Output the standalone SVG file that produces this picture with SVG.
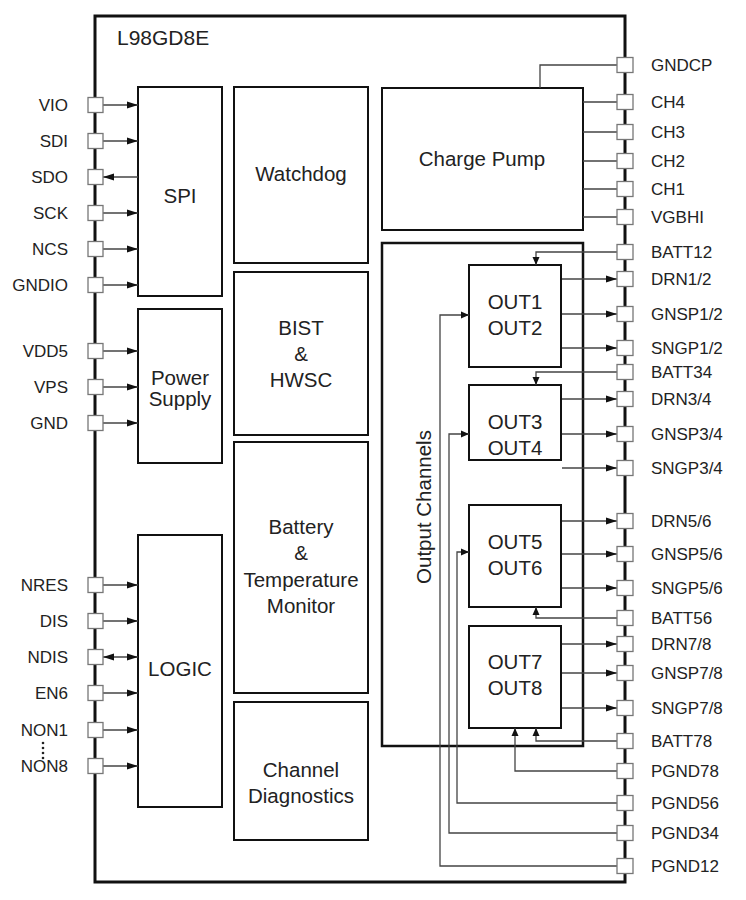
<svg xmlns="http://www.w3.org/2000/svg" width="746" height="900" viewBox="0 0 746 900">
<style>
text{font-family:"Liberation Sans",Arial,sans-serif;fill:#222}
.pl{font-size:17px}
.l{text-anchor:end}
.bl{font-size:20.5px;text-anchor:middle}
.blk{fill:#fff;stroke:#111;stroke-width:2}
.pin{fill:#fff;stroke:#777;stroke-width:1.3}
.w{fill:none;stroke:#444;stroke-width:1.3}
.a{marker-end:url(#ah)}
.as{marker-end:url(#sh)}
</style>
<defs>
<marker id="ah" markerUnits="userSpaceOnUse" markerWidth="11" markerHeight="8" refX="11" refY="4" orient="auto"><path d="M0,0.5 L11,4 L0,7.5z" fill="#111"/></marker>
<marker id="as" markerUnits="userSpaceOnUse" markerWidth="11" markerHeight="8" refX="11" refY="4" orient="auto-start-reverse"><path d="M0,0.5 L11,4 L0,7.5z" fill="#111"/></marker>
<marker id="sh" markerUnits="userSpaceOnUse" markerWidth="8" markerHeight="8" refX="8" refY="4" orient="auto"><path d="M0,0.5 L8,4 L0,7.5z" fill="#111"/></marker>
</defs>
<rect width="746" height="900" fill="#fff"/>
<g id="chip">
<rect x="95" y="16" width="530" height="866" fill="none" stroke="#111" stroke-width="3"/>
<text x="117" y="45" style="font-size:21px">L98GD8E</text>
</g>
<g id="spi"><rect class="blk" x="138" y="87" width="84" height="209"/><text class="bl" x="180" y="203">SPI</text></g>
<g id="power"><rect class="blk" x="138" y="309" width="84" height="154"/><text class="bl" x="180" y="385">Power</text><text class="bl" x="180" y="406">Supply</text></g>
<g id="logic"><rect class="blk" x="138" y="535" width="84" height="272"/><text class="bl" x="180" y="676">LOGIC</text></g>
<g id="watchdog"><rect class="blk" x="234" y="87" width="134" height="176"/><text class="bl" x="301" y="181">Watchdog</text></g>
<g id="bist"><rect class="blk" x="234" y="272" width="134" height="163"/><text class="bl" x="301" y="335">BIST</text><text class="bl" x="301" y="361">&amp;</text><text class="bl" x="301" y="387">HWSC</text></g>
<g id="battery"><rect class="blk" x="234" y="442" width="134" height="251"/><text class="bl" x="301" y="534">Battery</text><text class="bl" x="301" y="560">&amp;</text><text class="bl" x="301" y="587">Temperature</text><text class="bl" x="301" y="613">Monitor</text></g>
<g id="diag"><rect class="blk" x="234" y="702" width="134" height="138"/><text class="bl" x="301" y="777">Channel</text><text class="bl" x="301" y="803">Diagnostics</text></g>
<g id="chargepump"><rect class="blk" x="382" y="88" width="201" height="142"/><text class="bl" x="482" y="166">Charge Pump</text></g>
<g id="outch"><rect x="382" y="243" width="201" height="503" fill="none" stroke="#111" stroke-width="2.5"/><text class="bl" transform="translate(431,507) rotate(-90)">Output Channels</text></g>
<g id="out12"><rect class="blk" x="469" y="265" width="92" height="102"/><text class="bl" x="515" y="309">OUT1</text><text class="bl" x="515" y="335">OUT2</text></g>
<g id="out34"><rect class="blk" x="469" y="385" width="92" height="75"/><text class="bl" x="515" y="429">OUT3</text><text class="bl" x="515" y="455">OUT4</text></g>
<g id="out56"><rect class="blk" x="469" y="505" width="92" height="102"/><text class="bl" x="515" y="549">OUT5</text><text class="bl" x="515" y="575">OUT6</text></g>
<g id="out78"><rect class="blk" x="469" y="626" width="92" height="102"/><text class="bl" x="515" y="669">OUT7</text><text class="bl" x="515" y="695">OUT8</text></g>
<g id="connectors">
<path class="w a" d="M103,105H138"/>
<path class="w a" d="M103,141H138"/>
<path class="w a" d="M138,177H103"/>
<path class="w a" d="M103,213H138"/>
<path class="w a" d="M103,249H138"/>
<path class="w a" d="M103,285H138"/>
<path class="w a" d="M103,351H138"/>
<path class="w a" d="M103,387H138"/>
<path class="w a" d="M103,423H138"/>
<path class="w a" d="M103,585H138"/>
<path class="w a" d="M103,621H138"/>
<path class="w" d="M103,657H138" marker-start="url(#as)" marker-end="url(#ah)"/>
<path class="w a" d="M103,693H138"/>
<path class="w a" d="M103,730H138"/>
<path class="w a" d="M103,766H138"/>
<path class="w" d="M540,88V65H617"/>
<path class="w" d="M583,102H617M583,132H617M583,161H617M583,189H617M583,217H617"/>
<path class="w as" d="M617,252H536V265"/>
<path class="w as" d="M617,372H536V385"/>
<path class="w as" d="M617,618H536V607"/>
<path class="w as" d="M617,741H536V728"/>
<path class="w as" d="M617,771H515V728"/>
<path class="w as" d="M617,803H457V552H469"/>
<path class="w as" d="M617,833H449V434H469"/>
<path class="w as" d="M617,866H440V315H469"/>
<path class="w a" d="M562,279H617"/>
<path class="w a" d="M562,314H617"/>
<path class="w a" d="M562,348H617"/>
<path class="w a" d="M562,399H617"/>
<path class="w a" d="M562,434H617"/>
<path class="w a" d="M562,468H617"/>
<path class="w a" d="M562,521H617"/>
<path class="w a" d="M562,554H617"/>
<path class="w a" d="M562,588H617"/>
<path class="w a" d="M562,644H617"/>
<path class="w a" d="M562,673H617"/>
<path class="w a" d="M562,708H617"/>
</g>
<g id="pins-left">
<g id="pin-vio"><rect class="pin" x="88" y="97.5" width="15" height="15"/><text class="pl l" x="68" y="111">VIO</text></g>
<g id="pin-sdi"><rect class="pin" x="88" y="133.5" width="15" height="15"/><text class="pl l" x="68" y="147">SDI</text></g>
<g id="pin-sdo"><rect class="pin" x="88" y="169.5" width="15" height="15"/><text class="pl l" x="68" y="183">SDO</text></g>
<g id="pin-sck"><rect class="pin" x="88" y="205.5" width="15" height="15"/><text class="pl l" x="68" y="219">SCK</text></g>
<g id="pin-ncs"><rect class="pin" x="88" y="241.5" width="15" height="15"/><text class="pl l" x="68" y="255">NCS</text></g>
<g id="pin-gndio"><rect class="pin" x="88" y="277.5" width="15" height="15"/><text class="pl l" x="68" y="291">GNDIO</text></g>
<g id="pin-vdd5"><rect class="pin" x="88" y="343.5" width="15" height="15"/><text class="pl l" x="68" y="357">VDD5</text></g>
<g id="pin-vps"><rect class="pin" x="88" y="379.5" width="15" height="15"/><text class="pl l" x="68" y="393">VPS</text></g>
<g id="pin-gnd"><rect class="pin" x="88" y="415.5" width="15" height="15"/><text class="pl l" x="68" y="429">GND</text></g>
<g id="pin-nres"><rect class="pin" x="88" y="577.5" width="15" height="15"/><text class="pl l" x="68" y="591">NRES</text></g>
<g id="pin-dis"><rect class="pin" x="88" y="613.5" width="15" height="15"/><text class="pl l" x="68" y="627">DIS</text></g>
<g id="pin-ndis"><rect class="pin" x="88" y="649.5" width="15" height="15"/><text class="pl l" x="68" y="663">NDIS</text></g>
<g id="pin-en6"><rect class="pin" x="88" y="685.5" width="15" height="15"/><text class="pl l" x="68" y="699">EN6</text></g>
<g id="pin-non1"><rect class="pin" x="88" y="722.5" width="15" height="15"/><text class="pl l" x="68" y="736">NON1</text></g>
<g id="dots"><circle cx="43" cy="743" r="1.3" fill="#222"/><circle cx="43" cy="748" r="1.3" fill="#222"/><circle cx="43" cy="753" r="1.3" fill="#222"/><circle cx="43" cy="758" r="1.3" fill="#222"/></g>
<g id="pin-non8"><rect class="pin" x="88" y="758.5" width="15" height="15"/><text class="pl l" x="68" y="772">NON8</text></g>
</g>
<g id="pins-right">
<g id="pin-gndcp"><rect class="pin" x="617" y="57.5" width="16" height="15"/><text class="pl" x="651" y="71">GNDCP</text></g>
<g id="pin-ch4"><rect class="pin" x="617" y="94.5" width="16" height="15"/><text class="pl" x="651" y="108">CH4</text></g>
<g id="pin-ch3"><rect class="pin" x="617" y="124.5" width="16" height="15"/><text class="pl" x="651" y="138">CH3</text></g>
<g id="pin-ch2"><rect class="pin" x="617" y="153.5" width="16" height="15"/><text class="pl" x="651" y="167">CH2</text></g>
<g id="pin-ch1"><rect class="pin" x="617" y="181.5" width="16" height="15"/><text class="pl" x="651" y="195">CH1</text></g>
<g id="pin-vgbhi"><rect class="pin" x="617" y="209.5" width="16" height="15"/><text class="pl" x="651" y="223">VGBHI</text></g>
<g id="pin-batt12"><rect class="pin" x="617" y="244.5" width="16" height="15"/><text class="pl" x="651" y="258">BATT12</text></g>
<g id="pin-drn12"><rect class="pin" x="617" y="271.5" width="16" height="15"/><text class="pl" x="651" y="285">DRN1/2</text></g>
<g id="pin-gnsp12"><rect class="pin" x="617" y="306.5" width="16" height="15"/><text class="pl" x="651" y="320">GNSP1/2</text></g>
<g id="pin-sngp12"><rect class="pin" x="617" y="340.5" width="16" height="15"/><text class="pl" x="651" y="354">SNGP1/2</text></g>
<g id="pin-batt34"><rect class="pin" x="617" y="364.5" width="16" height="15"/><text class="pl" x="651" y="378">BATT34</text></g>
<g id="pin-drn34"><rect class="pin" x="617" y="391.5" width="16" height="15"/><text class="pl" x="651" y="405">DRN3/4</text></g>
<g id="pin-gnsp34"><rect class="pin" x="617" y="426.5" width="16" height="15"/><text class="pl" x="651" y="440">GNSP3/4</text></g>
<g id="pin-sngp34"><rect class="pin" x="617" y="460.5" width="16" height="15"/><text class="pl" x="651" y="474">SNGP3/4</text></g>
<g id="pin-drn56"><rect class="pin" x="617" y="513.5" width="16" height="15"/><text class="pl" x="651" y="527">DRN5/6</text></g>
<g id="pin-gnsp56"><rect class="pin" x="617" y="546.5" width="16" height="15"/><text class="pl" x="651" y="560">GNSP5/6</text></g>
<g id="pin-sngp56"><rect class="pin" x="617" y="580.5" width="16" height="15"/><text class="pl" x="651" y="594">SNGP5/6</text></g>
<g id="pin-batt56"><rect class="pin" x="617" y="610.5" width="16" height="15"/><text class="pl" x="651" y="624">BATT56</text></g>
<g id="pin-drn78"><rect class="pin" x="617" y="636.5" width="16" height="15"/><text class="pl" x="651" y="650">DRN7/8</text></g>
<g id="pin-gnsp78"><rect class="pin" x="617" y="665.5" width="16" height="15"/><text class="pl" x="651" y="679">GNSP7/8</text></g>
<g id="pin-sngp78"><rect class="pin" x="617" y="700.5" width="16" height="15"/><text class="pl" x="651" y="714">SNGP7/8</text></g>
<g id="pin-batt78"><rect class="pin" x="617" y="733.5" width="16" height="15"/><text class="pl" x="651" y="747">BATT78</text></g>
<g id="pin-pgnd78"><rect class="pin" x="617" y="763.5" width="16" height="15"/><text class="pl" x="651" y="777">PGND78</text></g>
<g id="pin-pgnd56"><rect class="pin" x="617" y="795.5" width="16" height="15"/><text class="pl" x="651" y="809">PGND56</text></g>
<g id="pin-pgnd34"><rect class="pin" x="617" y="825.5" width="16" height="15"/><text class="pl" x="651" y="839">PGND34</text></g>
<g id="pin-pgnd12"><rect class="pin" x="617" y="858.5" width="16" height="15"/><text class="pl" x="651" y="872">PGND12</text></g>
</g>
</svg>
